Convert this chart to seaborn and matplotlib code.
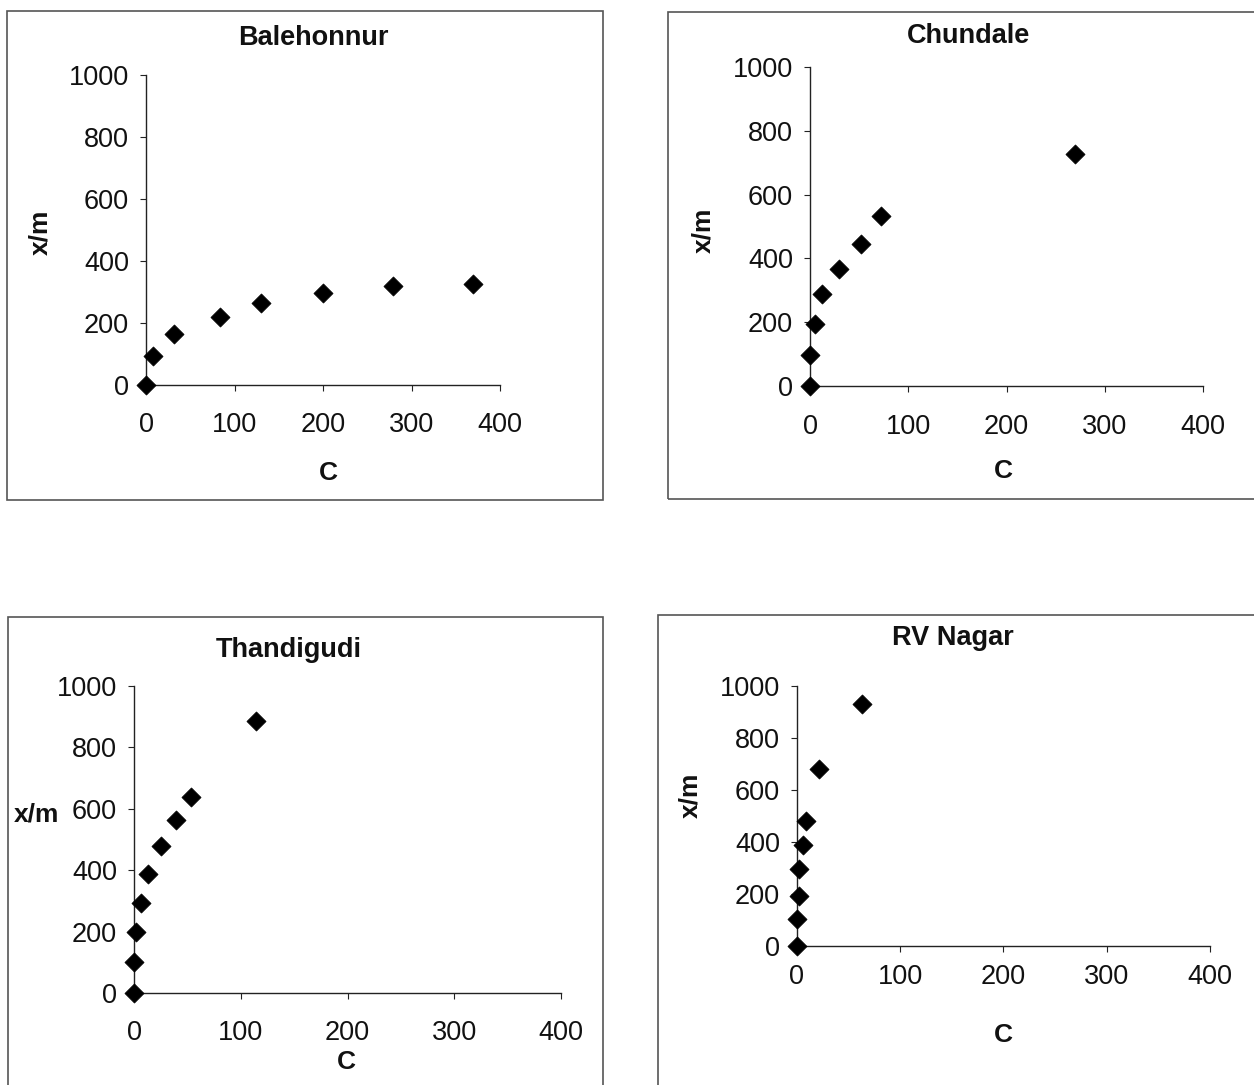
import matplotlib
matplotlib.use("Agg")
import matplotlib.pyplot as plt
import seaborn as sns
import pandas as pd
from matplotlib.patches import Rectangle

sns.set_theme(style="white")
plt.rcParams['font.family'] = ['Liberation Sans', 'DejaVu Sans']

# ---- data ----
bale_c = [0, 8, 32, 84, 130, 200, 279, 370]
bale_xm = [0, 93, 163, 218, 266, 296, 319, 326]

chun_c = [0, 0, 5, 12, 30, 52, 72, 270]
chun_xm = [0, 97, 193, 287, 366, 444, 532, 727]

thand_c = [0, 0, 2, 7, 13, 25, 39, 53, 114]
thand_xm = [0, 102, 199, 293, 388, 478, 563, 640, 887]

rv_c = [0, 0, 2, 2, 6, 9, 21, 63]
rv_xm = [0, 102, 194, 296, 389, 481, 679, 929]

x_ticks = [0, 100, 200, 300, 400]
y_ticks = [0, 200, 400, 600, 800, 1000]

W, H = 1254, 1085
fig = plt.figure(figsize=(W / 100, H / 100), dpi=100)


def fx(px):
    return px / W


def fy(py):
    return 1 - py / H


def px2pt(p):
    return p * 72 / 100


panels = [
    dict(name="Balehonnur", c=bale_c, xm=bale_xm,
         ax=(146, 75, 500, 385), box=(7, 11, 603, 500),
         title=(313, 38), xlab=(328, 473), ylab=(40, 232), yrot=90, xpad=21),
    dict(name="Chundale", c=chun_c, xm=chun_xm,
         ax=(810, 67, 1203, 386), box=(668, 12, 1262, 499),
         title=(968, 36), xlab=(1003, 471), ylab=(703, 230), yrot=90, xpad=22),
    dict(name="Thandigudi", c=thand_c, xm=thand_xm,
         ax=(134, 686, 561, 993), box=(8, 617, 603, 1095),
         title=(289, 650), xlab=(346, 1062), ylab=(36, 815), yrot=0, xpad=21),
    dict(name="RV Nagar", c=rv_c, xm=rv_xm,
         ax=(797, 686, 1210, 946), box=(658, 615, 1262, 1095),
         title=(953, 638), xlab=(1003, 1035), ylab=(690, 795), yrot=90, xpad=12),
]

for p in panels:
    bl, bt, br, bb = p["box"]
    fig.add_artist(Rectangle((fx(bl), fy(bb)), (br - bl) / W, (bb - bt) / H,
                             transform=fig.transFigure, fill=False,
                             edgecolor="#555555", linewidth=1.2))
    l, t, r, b = p["ax"]
    ax = fig.add_axes([fx(l), fy(b), (r - l) / W, (b - t) / H])
    df = pd.DataFrame({"C": p["c"], "xm": p["xm"]})
    sns.scatterplot(data=df, x="C", y="xm", marker="D", s=95, color="black",
                    edgecolor="black", linewidth=0.5, ax=ax, clip_on=False,
                    zorder=5, legend=False)
    ax.set_xlim(0, 400)
    ax.set_ylim(0, 1000)
    ax.set_xticks(x_ticks)
    ax.set_yticks(y_ticks)
    ax.set_xlabel("")
    ax.set_ylabel("")
    ax.set_facecolor("none")
    for s in ["top", "right"]:
        ax.spines[s].set_visible(False)
    for s in ["left", "bottom"]:
        ax.spines[s].set_color("#222222")
        ax.spines[s].set_linewidth(1.0)
    ax.tick_params(axis="both", which="major", direction="out", length=px2pt(6),
                   width=0.8, color="#222222", labelsize=19.5, labelcolor="#111111",
                   bottom=True, left=True)
    ax.tick_params(axis="y", pad=px2pt(11))
    ax.tick_params(axis="x", pad=px2pt(p["xpad"]))
    ax.grid(False)

    fig.text(fx(p["title"][0]), fy(p["title"][1]), p["name"], ha="center",
             va="center", fontsize=19.5, fontweight="bold", color="#111111")
    fig.text(fx(p["xlab"][0]), fy(p["xlab"][1]), "C", ha="center",
             va="center", fontsize=19, fontweight="bold", color="#111111")
    fig.text(fx(p["ylab"][0]), fy(p["ylab"][1]), "x/m", ha="center",
             va="center", fontsize=19, fontweight="bold", color="#111111",
             rotation=p["yrot"])

fig.savefig("out.png", dpi=100, facecolor="white")
